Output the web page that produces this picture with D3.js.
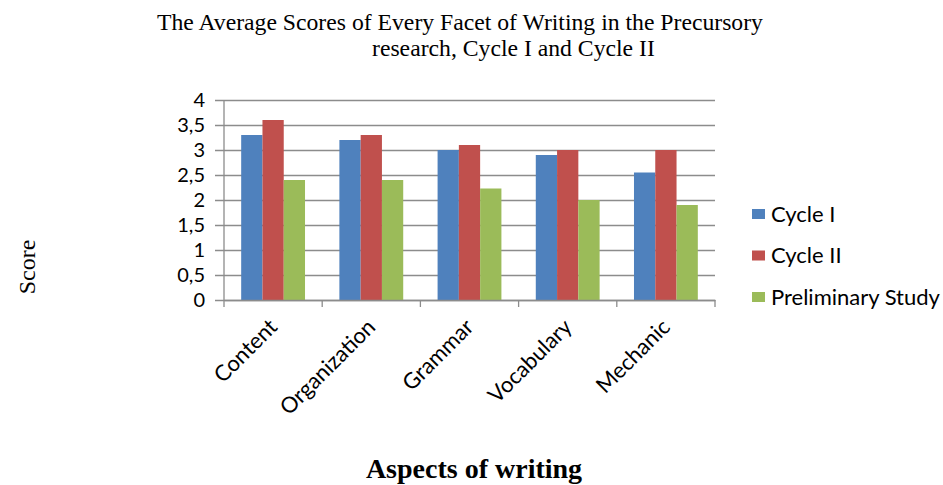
<!DOCTYPE html>
<html>
<head>
<meta charset="utf-8">
<script src="https://cdn.jsdelivr.net/npm/d3@7"></script>
<style>
  body { margin: 0; background: #fff; }
  .tick text { font-family: Lato, sans-serif; font-size: 20px; fill: #000; }
  .x-axis .tick text { font-size: 22px; }
  .title { font-family: 'Liberation Serif', serif; font-size: 23.7px; fill: #000; }
</style>
</head>
<body>
<svg width="943" height="485"></svg>
<script>
const categories = ['Content', 'Organization', 'Grammar', 'Vocabulary', 'Mechanic']
const seriesNames = ['Cycle I', 'Cycle II', 'Preliminary Study']
const cycle1 = [3.3, 3.2, 3.0, 2.9, 2.55]
const cycle2 = [3.6, 3.3, 3.1, 3.0, 3.0]
const preliminary = [2.4, 2.4, 2.23, 2.0, 1.9]
const yTicks = [0, 0.5, 1, 1.5, 2, 2.5, 3, 3.5, 4]
const colors = ['#4F81BD', '#C0504D', '#9BBB59']

const svg = d3.select('svg')
const margin = { top: 100, left: 224 }
const innerWidth = 491
const innerHeight = 200

const data = categories.map((c, i) => ({
  category: c,
  values: [cycle1[i], cycle2[i], preliminary[i]]
}))

const g = svg.append('g')
  .attr('transform', `translate(${margin.left}, ${margin.top})`)

const xScale = d3.scaleBand()
  .domain(categories)
  .range([0, innerWidth])
  .paddingInner(0.35)
  .paddingOuter(0.175)

const xSub = d3.scaleBand()
  .domain(seriesNames)
  .range([0, xScale.bandwidth()])

const yScale = d3.scaleLinear()
  .domain([0, 4])
  .range([innerHeight, 0])

// y axis with gridlines
const yAxis = d3.axisLeft(yScale)
  .tickValues(yTicks)
  .tickFormat(d => String(d).replace('.', ','))
  .tickSize(-innerWidth - 9)

const yAxisGroup = g.append('g')
  .attr('transform', `translate(-9, 0)`)
  .call(yAxis)
yAxisGroup.select('.domain').remove()
yAxisGroup.selectAll('.tick line').attr('stroke', '#8c8c8c').attr('stroke-width', 1.3)
yAxisGroup.selectAll('.tick text')
  .attr('x', -10)
  .attr('dy', null)
  .attr('y', 6.5)

g.append('line')
  .attr('x1', 0).attr('x2', 0)
  .attr('y1', 0).attr('y2', innerHeight)
  .attr('stroke', '#8c8c8c').attr('stroke-width', 1.3)

// bars
const groups = g.selectAll('.group')
  .data(data)
  .join('g')
  .attr('class', 'group')
  .attr('transform', d => `translate(${xScale(d.category)}, 0)`)

groups.selectAll('rect')
  .data(d => d.values.map((v, i) => ({ name: seriesNames[i], value: v, i })))
  .join('rect')
  .attr('x', d => xSub(d.name))
  .attr('y', d => yScale(d.value))
  .attr('width', xSub.bandwidth())
  .attr('height', d => innerHeight - yScale(d.value))
  .attr('fill', d => colors[d.i])

// x axis
const xAxis = d3.axisBottom(xScale)
  .tickSize(0)

const xAxisGroup = g.append('g')
  .attr('class', 'x-axis')
  .attr('transform', `translate(0, ${innerHeight})`)
  .call(xAxis)
xAxisGroup.select('.domain').attr('stroke', '#8c8c8c').attr('stroke-width', 1.3)
xAxisGroup.selectAll('.tick text')
  .attr('text-anchor', 'end')
  .attr('transform', 'translate(0, 23) rotate(-45)')
  .attr('dy', null)
  .attr('y', 7.7)

const step = innerWidth / categories.length
g.append('g')
  .selectAll('line')
  .data(d3.range(categories.length + 1))
  .join('line')
  .attr('x1', i => i * step).attr('x2', i => i * step)
  .attr('y1', innerHeight).attr('y2', innerHeight + 7)
  .attr('stroke', '#8c8c8c').attr('stroke-width', 1.3)

// legend
const legend = svg.append('g')
  .attr('transform', 'translate(752, 214)')
const items = legend.selectAll('g')
  .data(seriesNames)
  .join('g')
  .attr('transform', (d, i) => `translate(0, ${i * 41.5})`)
items.append('rect')
  .attr('x', 0).attr('y', -5)
  .attr('width', 13).attr('height', 10)
  .attr('fill', (d, i) => colors[i])
items.append('text')
  .attr('x', 19)
  .attr('y', 7.7)
  .style('font-family', 'Lato, sans-serif')
  .style('font-size', '22px')
  .text(d => d)

// titles
svg.append('text')
  .attr('class', 'title')
  .attr('x', 157).attr('y', 30)
  .text('The Average Scores of Every Facet of Writing in the Precursory')
svg.append('text')
  .attr('class', 'title')
  .attr('x', 372).attr('y', 56)
  .text('research, Cycle I and Cycle II')

svg.append('text')
  .attr('transform', 'translate(35, 267) rotate(-90)')
  .attr('text-anchor', 'middle')
  .style('font-family', "'Liberation Serif', serif")
  .style('font-size', '24px')
  .text('Score')

svg.append('text')
  .attr('x', 474).attr('y', 478)
  .attr('text-anchor', 'middle')
  .style('font-family', "'Liberation Serif', serif")
  .style('font-size', '28px')
  .style('font-weight', 'bold')
  .text('Aspects of writing')
</script>
</body>
</html>
